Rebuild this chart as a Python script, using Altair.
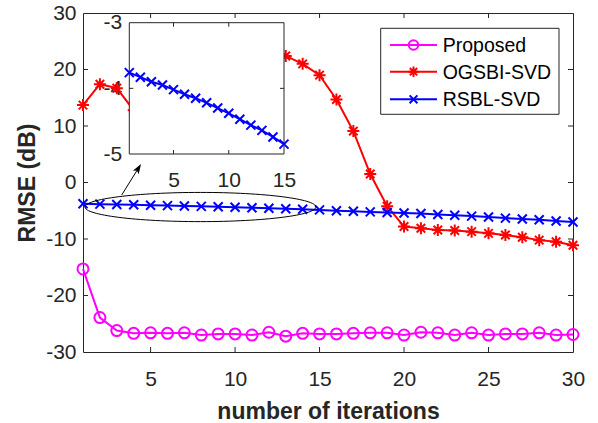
import altair as alt
import pandas as pd

# ---------------- data ----------------
iterations = list(range(1, 31))
proposed = [-15.3, -23.9, -26.2, -26.7, -26.6, -26.7, -26.6, -27.0, -26.8, -26.8,
            -27.0, -26.5, -27.2, -26.7, -26.8, -26.8, -26.7, -26.6, -26.6, -27.0,
            -26.5, -26.6, -27.0, -26.6, -27.0, -26.8, -26.8, -26.6, -27.0, -26.9]
ogsbi = [13.7, 17.4, 16.7, 12.8, 14.0, 15.5, 17.0, 18.5, 19.5, 20.5,
         21.3, 22.0, 22.4, 21.0, 19.0, 14.7, 9.1, 1.5, -4.2, -7.8,
         -8.1, -8.4, -8.5, -8.7, -9.0, -9.3, -9.7, -10.2, -10.5, -11.1]
rsbl = [-3.76, -3.83, -3.90, -3.95, -4.02, -4.09, -4.15, -4.22, -4.30, -4.38,
        -4.47, -4.56, -4.64, -4.74, -4.85, -5.0, -5.1, -5.2, -5.3, -5.4,
        -5.5, -5.65, -5.8, -5.95, -6.1, -6.3, -6.45, -6.6, -6.8, -7.0]
series_names = ["Proposed", "OGSBI-SVD", "RSBL-SVD"]
series_colors = ["#FF00FF", "#FF0000", "#0000FF"]

x_ticks = [5, 10, 15, 20, 25, 30]
y_ticks = [-30, -20, -10, 0, 10, 20, 30]
inset_x_ticks = [5, 10, 15]
inset_y_ticks = [-5, -4, -3]
inset_n = 15

# ---------------- style ----------------
FONT = "Liberation Sans"
AX = "#262626"
W, H = 490, 339
TICKFS = 21

CIRCLE = "circle"
ASTER = "M0,-1L0,1M-1,0L1,0M-0.7071,-0.7071L0.7071,0.7071M-0.7071,0.7071L0.7071,-0.7071"
XMARK = "M-1,-1L1,1M-1,1L1,-1"
shapes = [CIRCLE, ASTER, XMARK]
sizes = [121, 144, 81]

ELLIPSE = ("M-1,0C-1,-0.0698,-0.5523,-0.1264,0,-0.1264C0.5523,-0.1264,1,-0.0698,1,0"
           "C1,0.0698,0.5523,0.1264,0,0.1264C-0.5523,0.1264,-1,0.0698,-1,0Z")
ARROWHEAD = "M0,-1L0.55,0.6L0,0.25L-0.55,0.6Z"

lbl = "'' + datum.value"

X = alt.X("it:Q", scale=alt.Scale(domain=[1, 30], nice=False, zero=False),
          axis=alt.Axis(values=x_ticks, ticks=False, tickSize=0, domain=False, grid=False,
                        labelFont=FONT, labelFontSize=TICKFS, labelColor=AX, labelPadding=16,
                        labelExpr=lbl, labelFlush=False,
                        title="number of iterations", titleFont=FONT, titleFontSize=23,
                        titleFontWeight="bold", titleColor=AX, titleBaseline="alphabetic",
                        titleY=66.5))
Y = alt.Y("v:Q", scale=alt.Scale(domain=[-30, 30], nice=False, zero=False),
          axis=alt.Axis(values=y_ticks, ticks=False, tickSize=0, domain=False, grid=False,
                        labelFont=FONT, labelFontSize=TICKFS, labelColor=AX, labelPadding=7,
                        labelExpr=lbl, labelFlush=False,
                        title="RMSE (dB)", titleFont=FONT, titleFontSize=23,
                        titleFontWeight="bold", titleColor=AX, titleBaseline="alphabetic",
                        titleX=-49, titleAngle=270))

series_vals = [proposed, ogsbi, rsbl]
main_layers = []
for name, vals, col, shp, sz in zip(series_names, series_vals, series_colors, shapes, sizes):
    df = pd.DataFrame({"it": iterations, "v": vals})
    base = alt.Chart(df).encode(x=X, y=Y)
    main_layers.append(base.mark_line(color=col, strokeWidth=2))
    main_layers.append(base.mark_point(shape=shp, size=sz, filled=False, color=col,
                                       strokeWidth=2, opacity=1))

# inward ticks of the main box
xt = pd.DataFrame({"it": [t for t in x_ticks if t < 30]})
yt = pd.DataFrame({"v": [t for t in y_ticks if -30 < t < 30]})
for y0, y1 in [(H, H - 5), (0, 5)]:
    main_layers.append(alt.Chart(xt).mark_rule(color=AX, strokeWidth=1).encode(
        x=X, y=alt.value(y0), y2=alt.value(y1)))
for x0, x1 in [(0, 5), (W, W - 5)]:
    main_layers.append(alt.Chart(yt).mark_rule(color=AX, strokeWidth=1).encode(
        y=Y, x=alt.value(x0), x2=alt.value(x1)))

# ellipse annotation
ell = pd.DataFrame({"it": [7.95], "v": [-4.34]})
main_layers.append(alt.Chart(ell).mark_point(shape=ELLIPSE, size=53361, filled=False,
                                             color="black", strokeWidth=1, opacity=1)
                   .encode(x=X, y=Y))
# arrow annotation
arr = pd.DataFrame({"it": [3.29], "v": [-2.21], "it2": [4.24], "v2": [2.34]})
main_layers.append(alt.Chart(arr).mark_rule(color="black", strokeWidth=1).encode(
    x=X, y=Y, x2="it2:Q", y2="v2:Q"))
head = pd.DataFrame({"it": [4.24], "v": [2.34]})
main_layers.append(alt.Chart(head).mark_point(shape=ARROWHEAD, size=156, filled=True,
                                              color="black", opacity=1, angle=32,
                                              strokeWidth=0).encode(x=X, y=Y))

# legend (manual, MATLAB style)
one = pd.DataFrame({"k": [0]})
main_layers.append(alt.Chart(one).mark_rect(fill="white", stroke=AX, strokeWidth=1).encode(
    x=alt.value(297.7), x2=alt.value(476), y=alt.value(15.3), y2=alt.value(101.3)))
rows = [32, 58.7, 86.3]
for name, col, shp, sz, ry in zip(series_names, series_colors, shapes, sizes, rows):
    d = pd.DataFrame({"name": [name]})
    main_layers.append(alt.Chart(d).mark_rule(color=col, strokeWidth=2).encode(
        x=alt.value(307), x2=alt.value(354), y=alt.value(ry)))
    main_layers.append(alt.Chart(d).mark_point(shape=shp, size=sz * 0.75, filled=False,
                                               color=col, strokeWidth=2, opacity=1).encode(
        x=alt.value(330.5), y=alt.value(ry)))
    main_layers.append(alt.Chart(d).mark_text(align="left", baseline="middle", font=FONT,
                                              fontSize=19.5, color="black").encode(
        x=alt.value(359.7), y=alt.value(ry + 1), text="name:N"))

main = alt.layer(*main_layers)

# ---------------- inset ----------------
IL, IR, IT, IB = 46.3, 201.0, 9.7, 141.0
XI = alt.X("it:Q", scale=alt.Scale(domain=[1, 15], range=[IL, IR], nice=False, zero=False),
           axis=alt.Axis(orient="bottom", offset=-(H - IB), values=inset_x_ticks, ticks=False,
                         tickSize=0, domain=False, grid=False, labelFont=FONT, labelFontSize=TICKFS,
                         labelColor=AX, labelPadding=15, labelExpr=lbl, labelFlush=False,
                         title=None))
YI = alt.Y("v:Q", scale=alt.Scale(domain=[-5, -3], range=[IB, IT], nice=False, zero=False),
           axis=alt.Axis(orient="left", offset=-IL, values=inset_y_ticks, ticks=False,
                         tickSize=0, domain=False, grid=False, labelFont=FONT, labelFontSize=TICKFS,
                         labelColor=AX, labelPadding=7.5, labelExpr=lbl, labelFlush=False,
                         title=None))

box = pd.DataFrame({"it": [1], "it2": [15], "v": [-5], "v2": [-3]})
inset_layers = [
    alt.Chart(box).mark_rect(fill="white", stroke=AX, strokeWidth=1).encode(
        x=XI, x2="it2:Q", y=YI, y2="v2:Q"),
]
ixt = pd.DataFrame({"it": [5, 10]})
iyt = pd.DataFrame({"v": [-4]})
for y0, y1 in [(IB, IB - 4), (IT, IT + 4)]:
    inset_layers.append(alt.Chart(ixt).mark_rule(color=AX, strokeWidth=1).encode(
        x=XI, y=alt.value(y0), y2=alt.value(y1)))
for x0, x1 in [(IL, IL + 4), (IR, IR - 4)]:
    inset_layers.append(alt.Chart(iyt).mark_rule(color=AX, strokeWidth=1).encode(
        y=YI, x=alt.value(x0), x2=alt.value(x1)))

dfi = pd.DataFrame({"it": iterations[:inset_n], "v": rsbl[:inset_n]})
bi = alt.Chart(dfi).encode(x=XI, y=YI)
inset_layers.append(bi.mark_line(color="#0000FF", strokeWidth=2))
inset_layers.append(bi.mark_point(shape=XMARK, size=81, filled=False, color="#0000FF",
                                  strokeWidth=2, opacity=1))
inset = alt.layer(*inset_layers)

chart = (alt.layer(main, inset)
         .resolve_scale(x="independent", y="independent")
         .properties(width=W, height=H, background="white",
                     autosize=alt.AutoSizeParams(type="none"),
                     padding={"left": 83, "top": 13, "right": 25, "bottom": 71})
         .configure_view(stroke=AX, strokeWidth=1))

chart.save("out.html", embed_options={"renderer": "svg", "actions": False})
